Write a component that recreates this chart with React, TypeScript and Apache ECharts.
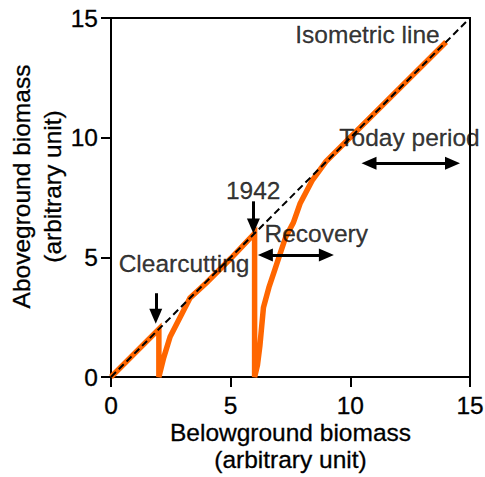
import { useEffect, useRef } from "react";
import * as echarts from "echarts";

// Biomass trajectory: growth along the isometric line, clearcutting drops, recovery
const belowground = [
  0, 2, 2, 2.2, 2.47, 3.3, 4, 5, 6,
  6, 6.12, 6.22, 6.37, 6.6, 6.85, 7.05, 7.3, 7.62, 7.9, 8.4, 8.98, 14,
];
const aboveground = [
  0, 2, 0, 0.8, 1.68, 3.3, 3.95, 4.95, 6,
  0, 0.5, 1.3, 2.9, 3.75, 4.5, 5.1, 5.85, 6.45, 7.25, 8.2, 9.0, 14,
];

// Isometric (1:1) reference line
const isoX = [0, 15];
const isoY = [0, 15];

// Axis range
const axisMin = 0;
const axisMax = 15;
const axisStep = 5;

// Text annotations (left edge x, vertical centre y)
const noteTexts = ["Isometric line", "Today period", "Recovery", "1942", "Clearcutting"];
const noteX = [7.68, 9.52, 6.39, 4.78, 0.3];
const noteY = [14.29, 10.01, 5.98, 7.81, 4.76];

// Downward event arrows: x, shaft top, head position
const eventX = [1.87, 5.95];
const eventTop = [3.5, 7.34];
const eventHead = [2.54, 6.31];

// Two-headed period arrows: start, end, y
const spanStart = [6.45, 10.78];
const spanEnd = [9.0, 14.27];
const spanY = [5.1, 8.93];

const FONT = "'Liberation Sans', Arial, Helvetica, sans-serif";
const FS = 24.5;

export default function App() {
  const ref = useRef<HTMLDivElement>(null);

  useEffect(() => {
    if (!ref.current) return;
    const chart = echarts.init(ref.current, undefined, { renderer: "svg" });

    const trajectory = belowground.map((x, i) => [x, aboveground[i]]);
    const iso = isoX.map((x, i) => [x, isoY[i]]);
    const notes = noteTexts.map((t, i) => ({ name: t, value: [noteX[i], noteY[i]] }));
    const eventLines = eventX.map((x, i) => [
      { coord: [x, eventTop[i]] },
      { coord: [x, eventHead[i]] },
    ]);
    const spanLines = spanStart.map((s, i) => [
      { coord: [s, spanY[i]] },
      { coord: [spanEnd[i], spanY[i]] },
    ]);

    const textCommon = {
      color: "#000",
      fontFamily: FONT,
      fontSize: FS,
      textBorderColor: "#000",
      textBorderWidth: 0.3,
    };

    const axisCommon = {
      type: "value" as const,
      min: axisMin,
      max: axisMax,
      interval: axisStep,
      splitLine: { show: false },
      axisLine: { show: true, onZero: false, lineStyle: { color: "#000", width: 2 } },
      axisTick: { show: true, length: 10, lineStyle: { color: "#000", width: 2 } },
      nameLocation: "middle" as const,
      nameMoveOverlap: false,
    };

    chart.setOption({
      animation: false,
      textStyle: { fontFamily: FONT },
      grid: {
        left: 111,
        right: 15,
        top: 18,
        bottom: 100,
        containLabel: false,
        outerBoundsMode: "none",
        show: true,
        borderColor: "#000",
        borderWidth: 2,
        backgroundColor: "transparent",
      },
      xAxis: {
        ...axisCommon,
        name: "Belowground biomass\n(arbitrary unit)",
        nameGap: 42,
        nameTextStyle: { ...textCommon, lineHeight: 27 },
        axisLabel: { ...textCommon, margin: 16 },
      },
      yAxis: {
        ...axisCommon,
        name: "Aboveground biomass\n(arbitrary unit)",
        nameGap: 43,
        nameTextStyle: { ...textCommon, lineHeight: 31, padding: [0, 0, 0, 22] },
        axisLabel: { ...textCommon, margin: 13 },
      },
      series: [
        {
          type: "line",
          data: trajectory,
          showSymbol: false,
          symbol: "none",
          lineStyle: { color: "#ff6600", width: 5.5, join: "miter" },
          z: 2,
          silent: true,
        },
        {
          type: "line",
          data: iso,
          showSymbol: false,
          symbol: "none",
          lineStyle: { color: "#000", width: 2, type: [7, 4] },
          z: 3,
          silent: true,
        },
        {
          type: "line",
          data: [],
          silent: true,
          markLine: {
            silent: true,
            symbol: ["none", "triangle"],
            symbolSize: [13, 15],
            label: { show: false },
            lineStyle: { color: "#000", width: 3, type: "solid" },
            emphasis: { disabled: true },
            data: eventLines,
          },
          z: 4,
        },
        {
          type: "line",
          data: [],
          silent: true,
          markLine: {
            silent: true,
            symbol: ["triangle", "triangle"],
            symbolSize: [13, 15],
            label: { show: false },
            lineStyle: { color: "#000", width: 3, type: "solid" },
            emphasis: { disabled: true },
            data: spanLines,
          },
          z: 4,
        },
        {
          type: "scatter",
          data: notes,
          symbolSize: 1,
          itemStyle: { color: "rgba(0,0,0,0)" },
          silent: true,
          z: 5,
          label: {
            ...textCommon,
            show: true,
            position: "right",
            distance: 0,
            formatter: (p: { name: string }) => p.name,
          },
        },
      ],
    });

    return () => chart.dispose();
  }, []);

  return (
    <div
      ref={ref}
      style={{ position: "fixed", left: 0, top: 0, width: 485, height: 477, background: "#fff" }}
    />
  );
}
